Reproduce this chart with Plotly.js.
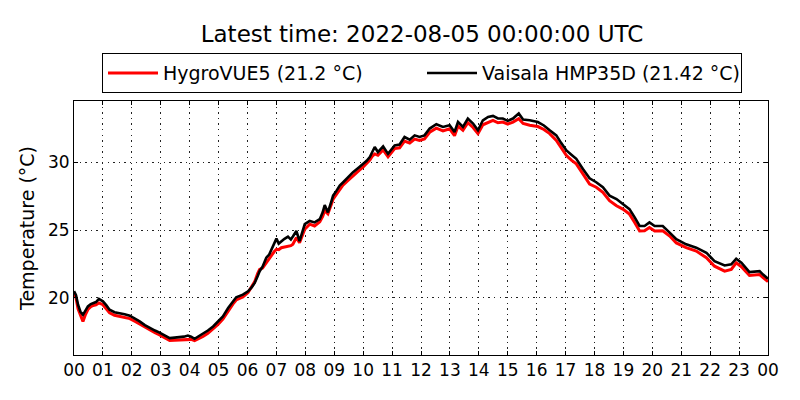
<!DOCTYPE html>
<html>
<head>
<meta charset="utf-8">
<script src="https://cdn.plot.ly/plotly-3.0.1.min.js"></script>
<style>
  body { margin: 0; background: #fff; }
  #plot { width: 800px; height: 400px; }
</style>
</head>
<body>
<div id="plot"></div>
<script>
// hours since 2022-08-04 00:00 UTC
const hours = [
    0.00, 0.07, 0.14, 0.22, 0.31, 0.40, 0.48, 0.58, 0.66, 0.76, 0.86, 1.00, 1.12, 1.23, 1.40,
    1.58, 1.75, 1.93, 2.10, 2.27, 2.45, 2.62, 2.80, 2.96, 3.15, 3.31, 3.48, 3.65, 3.80, 3.94,
    4.05, 4.17, 4.30, 4.46, 4.63, 4.81, 4.98, 5.15, 5.33, 5.50, 5.61, 5.84, 6.02, 6.15, 6.25,
    6.35, 6.42, 6.52, 6.65, 6.75, 6.83, 6.92, 7.00, 7.08, 7.17, 7.28, 7.40, 7.50, 7.57, 7.69,
    7.80, 7.90, 7.98, 8.15, 8.32, 8.50, 8.60, 8.67, 8.78, 8.90, 8.96, 9.08, 9.19, 9.30, 9.42,
    9.55, 9.65, 9.86, 10.00, 10.12, 10.23, 10.32, 10.40, 10.51, 10.69, 10.86, 11.00, 11.09, 11.26, 11.43,
    11.61, 11.78, 11.95, 12.12, 12.30, 12.53, 12.76, 12.99, 13.16, 13.28, 13.45, 13.62, 13.80, 13.97, 14.14,
    14.32, 14.49, 14.66, 14.83, 15.00, 15.18, 15.38, 15.53, 15.76, 16.04, 16.25, 16.45, 16.68, 16.85, 17.03,
    17.20, 17.37, 17.60, 17.83, 18.06, 18.29, 18.52, 18.76, 18.98, 19.21, 19.39, 19.56, 19.73, 19.90, 20.08,
    20.36, 20.60, 20.83, 21.17, 21.52, 21.87, 22.15, 22.50, 22.73, 22.90, 23.08, 23.36, 23.71, 23.83, 24.00
];

// Vaisala HMP35D (black)
const vaisala = [
    20.5, 20.2, 19.5, 19.0, 18.76, 19.1, 19.38, 19.55, 19.63, 19.7, 19.93, 19.75, 19.45, 19.13, 18.95,
    18.89, 18.8, 18.69, 18.5, 18.27, 18.0, 17.78, 17.6, 17.45, 17.22, 17.04, 17.08, 17.11, 17.15, 17.23,
    17.15, 16.99, 17.15, 17.36, 17.6, 17.9, 18.25, 18.64, 19.26, 19.75, 20.05, 20.24, 20.49, 20.8, 21.11,
    21.6, 21.97, 22.3, 22.96, 23.2, 23.58, 24.0, 24.37, 24.0, 24.19, 24.35, 24.52, 24.3, 24.52, 24.93,
    24.19, 24.8, 25.43, 25.67, 25.56, 25.8, 26.3, 26.84, 26.3, 27.1, 27.53, 27.9, 28.27, 28.5, 28.76,
    29.0, 29.26, 29.63, 29.87, 30.1, 30.37, 30.8, 31.11, 30.74, 31.16, 30.61, 31.0, 31.23, 31.3, 31.85,
    31.65, 31.97, 31.85, 31.97, 32.47, 32.79, 32.59, 32.71, 32.22, 32.96, 32.59, 33.21, 32.84, 32.34, 33.08,
    33.33, 33.4, 33.21, 33.21, 33.04, 33.21, 33.58, 33.13, 33.08, 32.95, 32.7, 32.34, 31.97, 31.4, 30.86,
    30.55, 30.24, 29.5, 28.81, 28.52, 28.15, 27.53, 27.28, 26.91, 26.54, 25.93, 25.3, 25.3, 25.56, 25.3,
    25.3, 24.81, 24.32, 23.95, 23.7, 23.33, 22.71, 22.39, 22.47, 22.89, 22.59, 21.9, 21.97, 21.72, 21.42
];

// HygroVUE5 (red)
const hygrovue = [
    20.3, 20.0, 19.2, 18.7, 18.27, 18.8, 19.15, 19.35, 19.45, 19.5, 19.63, 19.5, 19.2, 18.9, 18.72,
    18.64, 18.6, 18.48, 18.28, 18.07, 17.82, 17.6, 17.44, 17.28, 17.04, 16.86, 16.88, 16.9, 16.92, 16.97,
    16.95, 16.86, 16.98, 17.16, 17.4, 17.7, 18.05, 18.44, 19.05, 19.56, 19.85, 20.07, 20.4, 20.8, 21.2,
    21.8, 22.1, 22.2, 22.59, 22.9, 23.21, 23.4, 23.58, 23.55, 23.7, 23.75, 23.82, 23.85, 23.95, 24.44,
    24.07, 24.6, 25.06, 25.43, 25.3, 25.6, 26.0, 26.42, 26.2, 26.9, 27.28, 27.65, 27.98, 28.3, 28.55,
    28.8, 29.05, 29.4, 29.65, 29.9, 30.15, 30.45, 30.6, 30.5, 30.9, 30.4, 30.75, 31.0, 31.05, 31.55,
    31.4, 31.7, 31.6, 31.7, 32.2, 32.5, 32.3, 32.45, 31.95, 32.65, 32.35, 32.9, 32.55, 32.1, 32.75,
    32.95, 33.08, 32.9, 32.95, 32.8, 32.95, 33.2, 32.85, 32.71, 32.62, 32.4, 32.1, 31.6, 31.05, 30.49,
    30.15, 29.87, 29.13, 28.39, 28.15, 27.78, 27.16, 26.79, 26.54, 26.17, 25.56, 24.93, 24.95, 25.19, 24.93,
    24.95, 24.56, 24.05, 23.7, 23.45, 22.96, 22.34, 21.97, 22.1, 22.59, 22.3, 21.65, 21.72, 21.5, 21.2
];

const tickHours = [];
const tickLabels = [];
for (let h = 0; h <= 24; h++) {
    tickHours.push(h);
    tickLabels.push(String(h % 24).padStart(2, "0"));
}

const font = "DejaVu Sans, sans-serif";

let axisStyle = {
    showline: true,
    linecolor: "black",
    linewidth: 1,
    mirror: "ticks",
    ticks: "inside",
    ticklen: 4,
    tickcolor: "black",
    showgrid: true,
    gridcolor: "#222",
    gridwidth: 1,
    griddash: "1.4px,4.2px",
    zeroline: false,
    tickfont: {family: font, size: 17, color: "black"}
};

let data = [
    {
        x: hours,
        y: hygrovue,
        mode: "lines",
        name: "HygroVUE5 (" + hygrovue[hygrovue.length - 1] + " °C)",
        line: {color: "red", width: 3}
    },
    {
        x: hours,
        y: vaisala,
        mode: "lines",
        name: "Vaisala HMP35D (" + vaisala[vaisala.length - 1] + " °C)",
        line: {color: "black", width: 2.6}
    }
];

let layout = {
    width: 800,
    height: 400,
    margin: {l: 74, r: 32, t: 101, b: 45},
    paper_bgcolor: "white",
    plot_bgcolor: "white",
    font: {family: font, color: "black"},
    title: {
        text: "Latest time: 2022-08-05 00:00:00 UTC",
        font: {family: font, size: 23, color: "black"},
        x: 0.5275, xanchor: "center",
        y: 0.915, yanchor: "middle"
    },
    showlegend: true,
    legend: {
        orientation: "h",
        x: 0.5275, xanchor: "center", xref: "container",
        y: 0.867, yanchor: "top", yref: "container",
        bordercolor: "black",
        borderwidth: 1,
        font: {family: font, size: 19, color: "black"},
        itemwidth: 50,
        entrywidth: 254
    },
    xaxis: Object.assign({}, axisStyle, {
        range: [0, 24],
        tickmode: "array",
        tickvals: tickHours,
        ticktext: tickLabels
    }),
    yaxis: Object.assign({}, axisStyle, {
        range: [15.8, 34.5],
        tickmode: "array",
        tickvals: [20, 25, 30],
        title: {text: "Temperature (°C)", font: {family: font, size: 19, color: "black"}, standoff: 8}
    })
};

Plotly.newPlot("plot", data, layout, {displayModeBar: false, staticPlot: true});
</script>
</body>
</html>
